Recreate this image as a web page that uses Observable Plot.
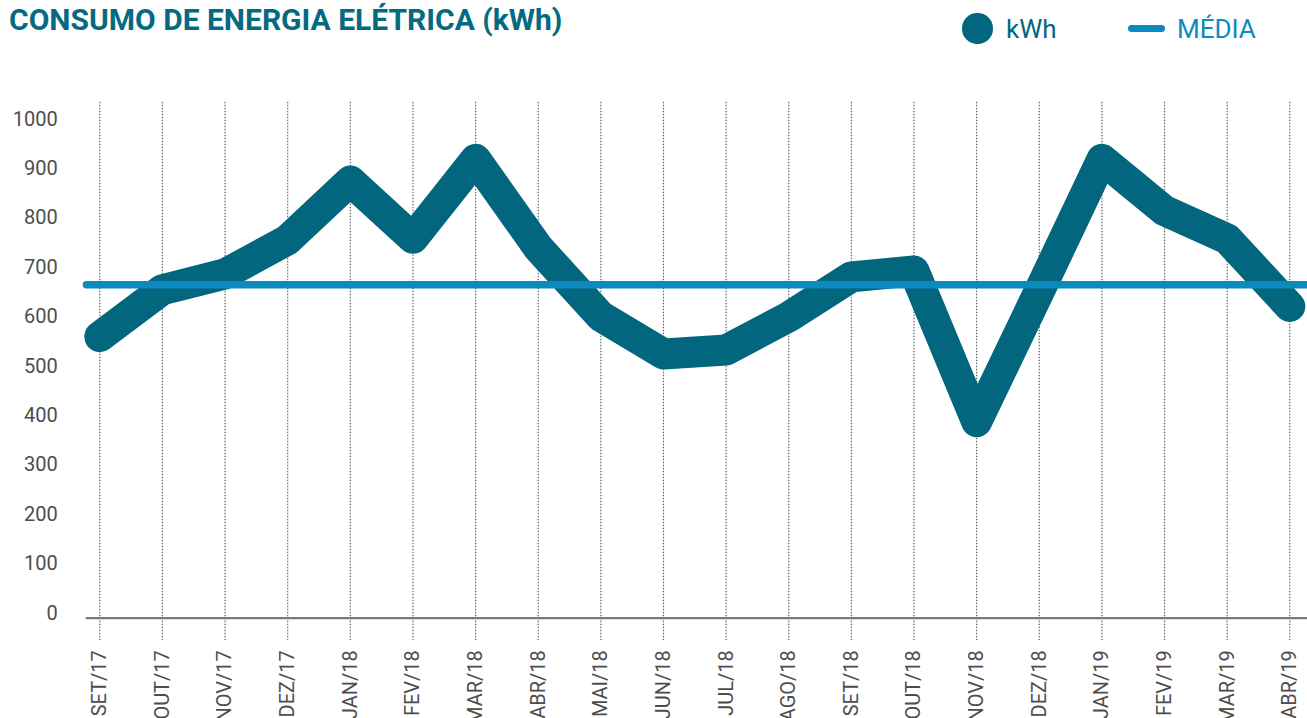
<!DOCTYPE html>
<html>
<head>
<meta charset="utf-8">
<script src="https://cdn.jsdelivr.net/npm/d3@7"></script>
<script src="https://cdn.jsdelivr.net/npm/@observablehq/plot@0.6"></script>
<style>
  html, body { margin: 0; padding: 0; background: #fff; }
  #wrap { width: 1307px; height: 718px; overflow: hidden; position: relative; font-family: Roboto, "DejaVu Sans", sans-serif; }
  #header { position: relative; height: 60px; }
  #title { position: absolute; left: 9px; top: 0px; font-size: 30px; font-weight: 700; color: #046a82; white-space: nowrap; line-height: 40px; }
  .leg { position: absolute; top: 9px; font-size: 26px; line-height: 40px; white-space: nowrap; }
  #legDot { position: absolute; left: 962px; top: 13px; width: 30.5px; height: 30.5px; border-radius: 50%; background: #03667f; }
  #legLine { position: absolute; left: 1127.5px; top: 25px; width: 37px; height: 7.3px; border-radius: 4px; background: #0a8abd; }
</style>
</head>
<body>
<div id="wrap">
  <div id="header">
    <div id="title">CONSUMO DE ENERGIA ELÉTRICA (kWh)</div>
    <div id="legDot"></div>
    <div class="leg" style="left:1006px; color:#03667f;">kWh</div>
    <div id="legLine"></div>
    <div class="leg" style="left:1177px; color:#0a8abd;">MÉDIA</div>
  </div>
  <div id="chart"></div>
</div>
<script>
const months = ["SET/17","OUT/17","NOV/17","DEZ/17","JAN/18","FEV/18","MAR/18","ABR/18","MAI/18","JUN/18","JUL/18","AGO/18","SET/18","OUT/18","NOV/18","DEZ/18","JAN/19","FEV/19","MAR/19","ABR/19"];
const kwh = [570, 665, 697, 766, 885, 769, 929, 750, 611, 535, 543, 610, 691, 703, 398, 662, 929, 825, 768, 631];
const media = [675];
const yTicks = [0, 100, 200, 300, 400, 500, 600, 700, 800, 900, 1000];

const rows = months.map((m, i) => ({month: m, value: kwh[i]}));

const chart = Plot.plot({
  width: 1307,
  height: 658,
  marginLeft: 99.3,
  marginRight: 17.7,
  marginTop: 63.7,
  marginBottom: 100.3,
  style: {fontFamily: "Roboto, sans-serif", color: "#4d4d4d", background: "transparent"},
  x: {type: "point", domain: months, padding: 0, round: false},
  y: {domain: [0, 1000]},
  marks: [
    Plot.ruleX(months, {x: d => d, stroke: "#666", strokeWidth: 1.2, strokeDasharray: "1.5 1.5", insetTop: -22, insetBottom: -22.3}),
    Plot.ruleY([0], {stroke: "#7a7a7a", strokeWidth: 2.3, insetLeft: -13.6, insetRight: -20}),
    Plot.axisY(yTicks, {tickSize: 0, tickPadding: 42, fontSize: 20, dy: -5, label: null, tickFormat: d => String(d)}),
    Plot.axisX(months, {tickSize: 0, tickRotate: -90, tickPadding: 32, fontSize: 20, label: null}),
    Plot.line(rows, {x: "month", y: "value", stroke: "#03667f", strokeWidth: 31, strokeLinecap: "round", strokeLinejoin: "round"}),
    Plot.ruleY(media, {stroke: "#0a8abd", strokeWidth: 7.3, strokeLinecap: "round", insetLeft: -13, insetRight: -25})
  ]
});
chart.style.overflow = "visible";
document.getElementById("chart").appendChild(chart);
</script>
</body>
</html>
